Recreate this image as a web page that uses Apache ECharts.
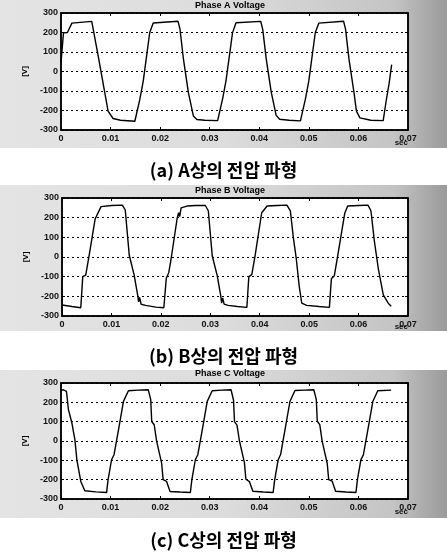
<!DOCTYPE html>
<html><head><meta charset="utf-8">
<script src="https://cdn.jsdelivr.net/npm/echarts@6/dist/echarts.min.js"></script>
<style>html,body{margin:0;padding:0;background:#fff}#c{width:447px;height:557px}</style>
</head><body><div id="c"></div>
<script>
const titles = ['Phase A Voltage', 'Phase B Voltage', 'Phase C Voltage'];
const captions = ['(a) A상의 전압 파형', '(b) B상의 전압 파형', '(c) C상의 전압 파형'];
const yName = '[V]';
const xName = 'sec';
const xTicks = [0, 0.01, 0.02, 0.03, 0.04, 0.05, 0.06, 0.07];
const yTicks = [-300, -200, -100, 0, 100, 200, 300];

const phaseA = [[0,45],[0.0005,198],[0.0013,200],[0.0022,248],[0.0062,257],[0.0066,250],[0.0075,80],[0.0095,-203],[0.0105,-241],[0.0120,-250],[0.0149,-255],
[0.0159,-143],[0.0166,-48],[0.0179,200],[0.0186,249],[0.0236,258],[0.0240,218],[0.0247,63],[0.0257,-108],[0.0267,-228],[0.0274,-246],[0.0290,-250],[0.0316,-252],
[0.0326,-140],[0.0333,-45],[0.0346,198],[0.0353,250],[0.0403,257],[0.0407,215],[0.0414,65],[0.0424,-105],[0.0434,-225],[0.0441,-245],[0.0460,-250],[0.0483,-253],
[0.0493,-142],[0.0500,-47],[0.0513,200],[0.0520,248],[0.0570,258],[0.0574,217],[0.0581,62],[0.0591,-107],[0.0596,-203],[0.0603,-238],[0.0625,-250],[0.0650,-252],
[0.0656,-150],[0.0662,-60],[0.0667,35]];

const phaseB = [[0,-244],[0.0020,-252],[0.0038,-258],[0.0042,-100],[0.0048,-92],[0.0055,10],[0.0067,193],[0.0079,256],[0.0100,262],[0.0122,264],[0.0128,239],[0.0136,10],[0.0146,-92],[0.0153,-193],[0.0155,-228],[0.0157,-205],[0.0160,-240],[0.0169,-246],[0.0190,-255],[0.0206,-258],
[0.0211,-108],[0.0216,-80],[0.0221,-5],[0.0233,197],[0.0236,225],[0.0238,205],[0.0241,250],[0.0253,259],[0.0270,262],[0.0290,262],[0.0296,235],[0.0304,5],[0.0314,-95],[0.0321,-195],[0.0323,-235],[0.0325,-208],[0.0328,-240],[0.0336,-246],[0.0355,-252],[0.0374,-256],
[0.0378,-100],[0.0384,-90],[0.0391,12],[0.0404,225],[0.0407,232],[0.0415,259],[0.0435,262],[0.0455,264],[0.0462,235],[0.0468,100],[0.0474,-10],[0.0480,-150],[0.0485,-235],[0.0495,-246],[0.0520,-252],[0.0541,-256],
[0.0545,-110],[0.0551,-95],[0.0558,10],[0.0572,222],[0.0578,259],[0.0600,262],[0.0619,264],[0.0625,235],[0.0632,80],[0.0640,-60],[0.0650,-193],[0.0660,-235],[0.0666,-250]];

const phaseC = [[0,262],[0.0005,265],[0.0011,257],[0.0015,162],[0.0022,93],[0.0028,7],[0.0032,-97],[0.0040,-209],[0.0048,-257],[0.0070,-263],[0.0092,-266],[0.0095,-200],[0.0102,-97],[0.0107,-71],[0.0116,58],[0.0126,205],[0.0136,260],[0.0156,263],[0.0176,265],
[0.0181,214],[0.0183,101],[0.0188,84],[0.0193,-2],[0.0203,-114],[0.0206,-200],[0.0213,-209],[0.0220,-261],[0.0240,-264],[0.0261,-266],[0.0264,-200],[0.0271,-97],[0.0276,-71],[0.0285,58],[0.0295,205],[0.0305,260],[0.0324,263],[0.0343,265],
[0.0348,212],[0.0350,100],[0.0355,82],[0.0360,0],[0.0370,-112],[0.0373,-198],[0.0380,-210],[0.0387,-260],[0.0408,-264],[0.0428,-266],[0.0431,-202],[0.0438,-98],[0.0443,-70],[0.0452,60],[0.0462,206],[0.0472,261],[0.0491,263],[0.0510,265],
[0.0515,215],[0.0517,102],[0.0522,85],[0.0527,-3],[0.0537,-115],[0.0540,-200],[0.0547,-208],[0.0554,-260],[0.0575,-264],[0.0595,-266],[0.0598,-200],[0.0605,-96],[0.0610,-72],[0.0619,57],[0.0629,204],[0.0639,260],[0.0666,263]];

const seriesData = [phaseA, phaseB, phaseC];

// layout
const grids = [
  {left: 61, top: 13, width: 347, height: 117},
  {left: 62, top: 198, width: 346, height: 118},
  {left: 61, top: 383, width: 347, height: 116}
];
const bands = [[0, 148], [185, 146], [370, 148]];
const captionY = [172, 358, 542];
const titleY = [7, 192, 375];
const xNameY = [143, 327, 512];

const chart = echarts.init(document.getElementById('c'), null, {renderer: 'canvas'});
const fontF = '"Liberation Sans", Arial, sans-serif';
const xAxes = [], yAxes = [], series = [], gridOpts = [], graphics = [];
const xLabelSet = new Set(xTicks.map(v => v.toFixed(2)));

grids.forEach((g, i) => {
  gridOpts.push(Object.assign({show: true, backgroundColor: '#fff', borderColor: '#000', borderWidth: 1.5, containLabel: false}, g));
  xAxes.push({
    type: 'value', gridIndex: i, position: 'bottom', min: xTicks[0], max: xTicks[xTicks.length - 1], interval: 0.01,
    axisLine: {show: true, onZero: false, lineStyle: {color: '#000', width: 1.5}},
    axisTick: {show: true, inside: true, length: 3, lineStyle: {color: '#000'}},
    axisLabel: {color: '#111', fontFamily: fontF, fontWeight: 'bold', fontSize: 9, margin: 4,
      formatter: v => (v === 0 ? '0' : (xLabelSet.has(v.toFixed(2)) ? v.toFixed(2) : ''))},
    splitLine: {show: false}
  });
  xAxes.push({
    type: 'value', gridIndex: i, position: 'top', min: xTicks[0], max: xTicks[xTicks.length - 1], interval: 0.01,
    axisLine: {show: true, onZero: false, lineStyle: {color: '#000', width: 1.5}},
    axisTick: {show: true, inside: true, length: 3, lineStyle: {color: '#000'}},
    axisLabel: {show: false}, splitLine: {show: false}
  });
  yAxes.push({
    type: 'value', gridIndex: i, position: 'left', min: yTicks[0], max: yTicks[yTicks.length - 1], interval: 100,
    axisLine: {show: true, onZero: false, lineStyle: {color: '#000', width: 1.5}},
    axisTick: {show: true, inside: true, length: 3, lineStyle: {color: '#000'}},
    axisLabel: {color: '#111', fontFamily: fontF, fontWeight: 'bold', fontSize: 9, margin: 3},
    splitLine: {show: true, lineStyle: {color: '#000', width: 1, type: [2, 3]}},
    name: yName, nameLocation: 'middle', nameGap: 24, nameRotate: 90,
    nameTextStyle: {color: '#000', fontFamily: fontF, fontWeight: 'bold', fontSize: 8}
  });
  yAxes.push({
    type: 'value', gridIndex: i, position: 'right', min: yTicks[0], max: yTicks[yTicks.length - 1], interval: 100,
    axisLine: {show: true, onZero: false, lineStyle: {color: '#000', width: 1.5}},
    axisTick: {show: true, inside: true, length: 3, lineStyle: {color: '#000'}},
    axisLabel: {show: false}, splitLine: {show: false}
  });
  series.push({
    type: 'line', xAxisIndex: i * 2, yAxisIndex: i * 2, data: seriesData[i],
    showSymbol: false, symbol: 'none', animation: false,
    lineStyle: {color: '#000', width: 1.4}
  });
  graphics.push({
    type: 'rect', z: -10, silent: true,
    shape: {x: 0, y: bands[i][0], width: 447, height: bands[i][1]},
    style: {fill: new echarts.graphic.LinearGradient(0, 0, 1, 0, [
      {offset: 0, color: '#e4e4e4'}, {offset: 0.5, color: '#dcdcdc'}, {offset: 0.88, color: '#c4c4c4'}, {offset: 1, color: '#9a9a9a'}])}
  });
  graphics.push({
    type: 'text', z: 10, silent: true, x: 408, y: xNameY[i],
    style: {text: xName, fill: '#111', font: 'bold 8px "Liberation Sans", Arial, sans-serif', align: 'right', verticalAlign: 'middle'}
  });
  graphics.push({
    type: 'text', z: 10, silent: true, left: 'center', top: captionY[i] - 11,
    style: {text: captions[i], fill: '#000', font: 'bold 18px "Noto Sans CJK KR", sans-serif'}
  });
});

const titleOpts = titles.map((t, i) => ({
  text: t, left: 230, top: titleY[i] - 6, textAlign: 'center', padding: 0,
  textStyle: {color: '#000', fontFamily: fontF, fontWeight: 'bold', fontSize: 9}
}));

chart.setOption({
  animation: false,
  backgroundColor: '#fff',
  title: titleOpts,
  grid: gridOpts,
  xAxis: xAxes,
  yAxis: yAxes,
  series: series,
  graphic: graphics
});
</script></body></html>
